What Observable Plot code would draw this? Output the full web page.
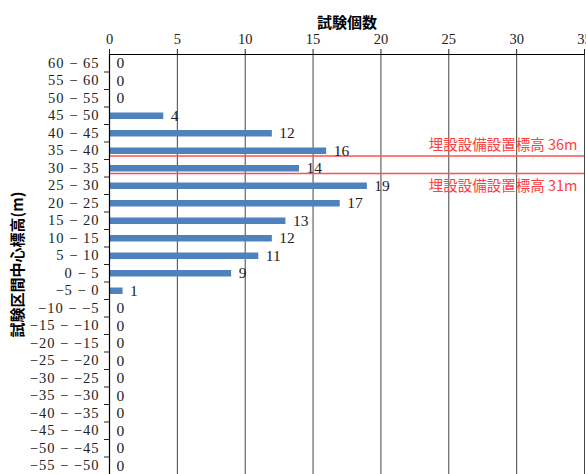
<!DOCTYPE html>
<html><head><meta charset="utf-8">
<script src="https://cdn.jsdelivr.net/npm/d3@7"></script>
<script src="https://cdn.jsdelivr.net/npm/@observablehq/plot@0.6"></script>
<style>
body{margin:0;background:#fff;}
svg{display:block;}
</style>
</head><body>
<div id="chart"></div>
<script>
const lows = [60,55,50,45,40,35,30,25,20,15,10,5,0,-5,-10,-15,-20,-25,-30,-35,-40,-45,-50,-55];
const counts = [0,0,0,4,12,16,14,19,17,13,12,11,9,1,0,0,0,0,0,0,0,0,0,0];
const xTicks = [0,5,10,15,20,25,30,35];
const refLevels = [36,31];
const refLabels = ["埋設設備設置標高 36m","埋設設備設置標高 31m"];
const xTitle = "試験個数";
const yTitle = "試験区間中心標高(m)";

const data = lows.map((lo,i)=>({lo, hi: lo+5, mid: lo+2.5, count: counts[i]}));
const fmt = v => (v<0 ? "\u2212"+Math.abs(v) : String(v));
const labelOf = new Map(data.map(d=>[d.mid, fmt(d.lo)+" \u2212 "+fmt(d.hi)]));
const bounds = lows.slice(0,-1);

const serif = "'Liberation Serif','DejaVu Serif','Noto Sans CJK JP',serif";
const cjk = "'Noto Sans CJK JP','Liberation Serif',sans-serif";

const chart = Plot.plot({
  width: 586, height: 474,
  marginLeft: 109, marginRight: 2, marginTop: 54, marginBottom: 0,
  style: {fontFamily: serif, fontSize: "13px", color: "#222", background: "#fff"},
  x: {domain: [0,35]},
  y: {domain: [-55,65]},
  marks: [
    Plot.ruleX(xTicks.filter(t=>t>0), {stroke: "#444", strokeWidth: 1}),
    Plot.ruleY(data, {y: "mid", x1: 0, x2: "count", stroke: "#4f81bd", strokeWidth: 6.5}),
    Plot.ruleY(refLevels, {stroke: "#ff5050", strokeWidth: 1.5}),
    Plot.ruleX([0], {stroke: "#000", strokeWidth: 1.2}),
    Plot.ruleY([65], {stroke: "#000", strokeWidth: 1.2}),
    Plot.axisX({anchor: "top", ticks: xTicks, tickSize: 6, tickPadding: 5, label: null, fontSize: 14.5, fontFamily: serif}),
    Plot.axisY({ticks: data.map(d=>d.mid), tickSize: 0, tickPadding: 10, tickFormat: v => labelOf.get(v), label: null, fontSize: 14.5, fontFamily: serif}),
    Plot.axisY({ticks: bounds, tickSize: 5, tickFormat: () => "", label: null}),
    Plot.text(data, {x: "count", y: "mid", text: d => String(d.count), dx: 7, textAnchor: "start", fill: "#222", fontSize: 15.5, fontFamily: serif}),
    Plot.text([refLevels[0]], {x: 35, y: d=>d, text: [refLabels[0]], dx: -7, dy: -11, textAnchor: "end", fill: "#ff4040", fontSize: 14.5, fontFamily: cjk}),
    Plot.text([refLevels[1]], {x: 35, y: d=>d, text: [refLabels[1]], dx: -7, dy: 13, textAnchor: "end", fill: "#ff4040", fontSize: 14.5, fontFamily: cjk}),
    Plot.text([xTitle], {frameAnchor: "top", dy: -37, textAnchor: "middle", fontWeight: "bold", fontSize: 15, fontFamily: cjk, fill: "#000"}),
    Plot.text([yTitle], {frameAnchor: "left", dx: -91, rotate: -90, textAnchor: "middle", fontWeight: "bold", fontSize: 15, fontFamily: cjk, fill: "#000"})
  ]
});
d3.select(chart).selectAll('g[aria-label="y-axis tick label"] text').style("letter-spacing", "1px");
document.getElementById("chart").append(chart);
</script>
</body></html>
